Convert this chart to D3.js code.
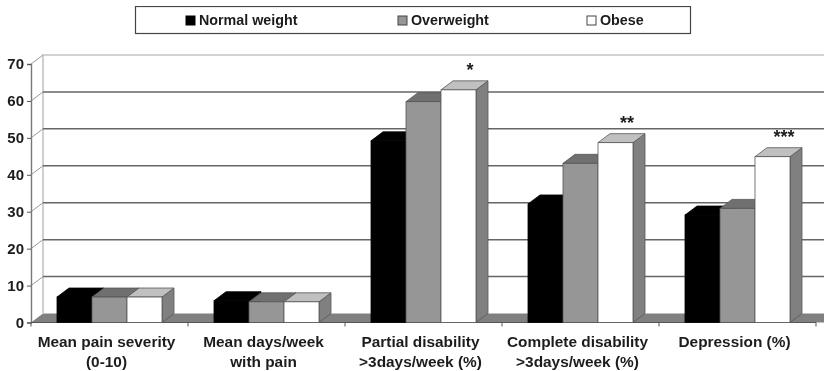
<!DOCTYPE html>
<html><head><meta charset="utf-8">
<script src="https://cdn.jsdelivr.net/npm/d3@7"></script>
<style>html,body{margin:0;padding:0;background:#fff}svg{display:block}
text{font-family:"Liberation Sans",Arial,sans-serif;font-weight:700;fill:#1c1c1c}</style>
</head><body><svg id="c" width="824" height="371"></svg>
<script>
const categories=[["Mean pain severity","(0-10)"],["Mean days/week","with pain"],["Partial disability",">3days/week (%)"],["Complete disability",">3days/week (%)"],["Depression (%)"]];
const seriesNames=["Normal weight","Overweight","Obese"];
const normalWeight=[6.9,5.9,49.2,32.1,29.1];
const overweight=[6.9,5.6,59.8,43.1,30.9];
const obese=[6.9,5.6,63,48.7,44.9];
const markers=["","","*","**","***"];
const yTicks=[0,10,20,30,40,50,60,70];

const fills=[{f:"#000",t:"#000",s:"#000",b:"#000"},{f:"#969696",t:"#6f6f6f",s:"#808080",b:"#555"},{f:"#fff",t:"#c0c0c0",s:"#808080",b:"#555"}];
const series=[normalWeight,overweight,obese];
const dx=12,dy=9;
const svg=d3.select("#c");
const root=svg.append("g").attr("filter","url(#soft)");
svg.append("defs").append("filter").attr("id","soft").attr("x",0).attr("y",0).attr("width","100%").attr("height","100%")
  .append("feGaussianBlur").attr("stdDeviation",0.6);

const y=d3.scaleLinear().domain([0,70]).range([322.5,64]);
const x=d3.scaleBand().domain(d3.range(categories.length)).range([31,816]).paddingInner(0).paddingOuter(0);
const groupPad=26;
const xs=d3.scaleBand().domain(d3.range(3)).range([groupPad,x.bandwidth()-groupPad]);

// walls
root.append("path").attr("d",`M31,${y(0)}L${31+dx},${y(0)-dy}L${824+dx},${y(0)-dy}L${816+dx},${y(0)}Z`).attr("fill","#808080");
root.append("path").attr("d",`M${31+dx},${y(0)-dy}V${y(70)-dy}H824`).attr("fill","none").attr("stroke","#c4c4c4").attr("stroke-width",1.6);
root.selectAll(".grid").data(yTicks.filter(d=>d>0&&d<70)).join("line").attr("class","grid")
  .attr("x1",31+dx).attr("x2",824).attr("y1",d=>y(d)-dy).attr("y2",d=>y(d)-dy).attr("stroke","#666").attr("stroke-width",1.5);
root.selectAll(".diag").data(yTicks.filter(d=>d>0)).join("line").attr("class","diag")
  .attr("x1",31).attr("x2",31+dx).attr("y1",d=>y(d)).attr("y2",d=>y(d)-dy).attr("stroke","#999").attr("stroke-width",1);

// axes
const yAxis=d3.axisLeft(y).tickValues(yTicks).tickSize(4).tickPadding(3);
const ga=root.append("g").attr("transform","translate(31,0)").call(yAxis);
ga.select(".domain").attr("stroke","#777").attr("stroke-width",1.4);
ga.selectAll(".tick line").attr("stroke","#555");
ga.selectAll("text").style("font-size","15px").style("font-family","'Liberation Sans',Arial,sans-serif").style("font-weight",700).attr("fill","#1c1c1c");

root.append("line").attr("x1",31).attr("x2",816).attr("y1",y(0)).attr("y2",y(0)).attr("stroke","#555").attr("stroke-width",1);
root.selectAll(".xt").data(d3.range(categories.length+1)).join("line").attr("class","xt")
  .attr("x1",i=>31+i*x.bandwidth()).attr("x2",i=>31+i*x.bandwidth()).attr("y1",y(0)).attr("y2",y(0)+4).attr("stroke","#555");

// bars
categories.forEach((c,ci)=>{
  const g=root.append("g").attr("transform",`translate(${x(ci)},0)`);
  series.forEach((vals,si)=>{
    const l=xs(si),w=xs.bandwidth(),r=l+w,t=y(vals[ci]),b=y(0),st=fills[si];
    g.append("path").attr("d",`M${r},${b}L${r+dx},${b-dy}V${t-dy}L${r},${t}Z`).attr("fill",st.s).attr("stroke",st.b).attr("stroke-width",.8);
    g.append("path").attr("d",`M${l},${t}L${l+dx},${t-dy}H${r+dx}L${r},${t}Z`).attr("fill",st.t).attr("stroke",st.b).attr("stroke-width",.8);
    g.append("rect").attr("x",l).attr("y",t).attr("width",w).attr("height",b-t).attr("fill",st.f).attr("stroke",st.b).attr("stroke-width",.8);
  });
  // category label
  c.forEach((ln,i)=>g.append("text").attr("x",x.bandwidth()/2-3).attr("y",y(0)+24+i*20).attr("text-anchor","middle").style("font-size","15.4px").text(ln));
  if(markers[ci]){
    g.append("text").attr("x",xs(2)+xs.bandwidth()/2+11.5).attr("y",y(obese[ci])-dy-5).attr("text-anchor","middle").style("font-size","18px").text(markers[ci]);
  }
});

// legend
root.append("rect").attr("x",135.5).attr("y",6.5).attr("width",555).attr("height",27).attr("fill","#fff").attr("stroke","#444").attr("stroke-width",1.2);
const legX=d3.scaleOrdinal().domain(seriesNames).range([186,398,587]);
seriesNames.forEach((n,i)=>{
  root.append("rect").attr("x",legX(n)).attr("y",16).attr("width",9).attr("height",9).attr("fill",fills[i].f).attr("stroke",i?"#444":"#000");
  root.append("text").attr("x",legX(n)+13).attr("y",25).style("font-size","14.3px").text(n);
});
</script></body></html>
